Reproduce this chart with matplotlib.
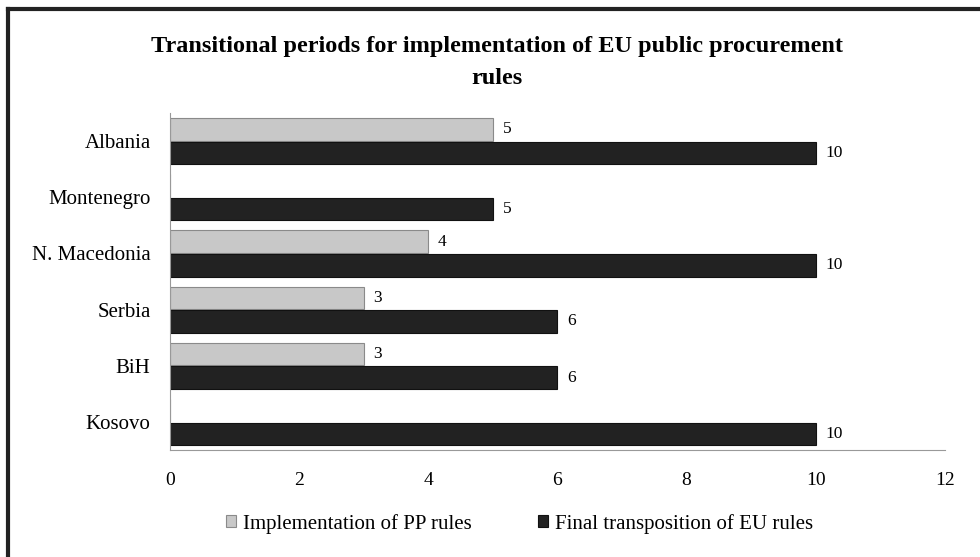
import matplotlib.pyplot as plt
import numpy as np

countries = ["Albania", "Montenegro", "N. Macedonia", "Serbia", "BiH", "Kosovo"]
implementation = [5, None, 4, 3, 3, None]
final_transposition = [10, 5, 10, 6, 6, 10]

plt.rcParams['font.family'] = ['Liberation Serif', 'DejaVu Serif']

fig = plt.figure(figsize=(9.8, 5.57), dpi=100)
ax = fig.add_axes([0.1735, 0.192, 0.7905, 0.605])

y = np.arange(len(countries))
h = 0.40

impl_vals = [v if v is not None else 0 for v in implementation]
b1 = ax.barh(y - h / 2 - 0.01, impl_vals, height=h, color='#c8c8c8',
             edgecolor='#8a8a8a', linewidth=0.8, label='Implementation of PP rules')
b2 = ax.barh(y + h / 2 + 0.01, final_transposition, height=h, color='#222222',
             edgecolor='#111111', linewidth=0.8, label='Final transposition of EU rules')

for i, v in enumerate(implementation):
    if v is not None:
        ax.text(v + 0.15, y[i] - h / 2 - 0.01, str(v), va='center', ha='left', fontsize=12.5)
for i, v in enumerate(final_transposition):
    ax.text(v + 0.15, y[i] + h / 2 + 0.01, str(v), va='center', ha='left', fontsize=12.5)

ax.set_xlim(0, 12)
ax.set_ylim(len(countries) - 0.5, -0.5)
ax.set_xticks(range(0, 13, 2))
ax.set_yticks(y)
ax.set_yticklabels(countries, fontsize=15)
ax.tick_params(axis='x', labelsize=14, length=0, pad=16)
ax.tick_params(axis='y', length=0, pad=14)

for s in ['top', 'right']:
    ax.spines[s].set_visible(False)
ax.spines['left'].set_color('#999999')
ax.spines['bottom'].set_color('#999999')

fig.text(0.507, 0.888, "Transitional periods for implementation of EU public procurement\nrules",
         ha='center', va='center', fontsize=17.5, fontweight='bold', linespacing=1.65)

fig.legend(handles=[b1, b2], loc='center', bbox_to_anchor=(0.53, 0.06), ncol=2,
           frameon=False, fontsize=15, handlelength=0.5, handleheight=0.5,
           columnspacing=3.2, handletextpad=0.3)

# outer frame (top and left edges visible)
fig.add_artist(plt.Line2D([0.008, 1.0], [0.984, 0.984], color='#222222', lw=3,
                          transform=fig.transFigure))
fig.add_artist(plt.Line2D([0.008, 0.008], [0.0, 0.984], color='#222222', lw=3,
                          transform=fig.transFigure))

fig.savefig('out.png', dpi=100)
